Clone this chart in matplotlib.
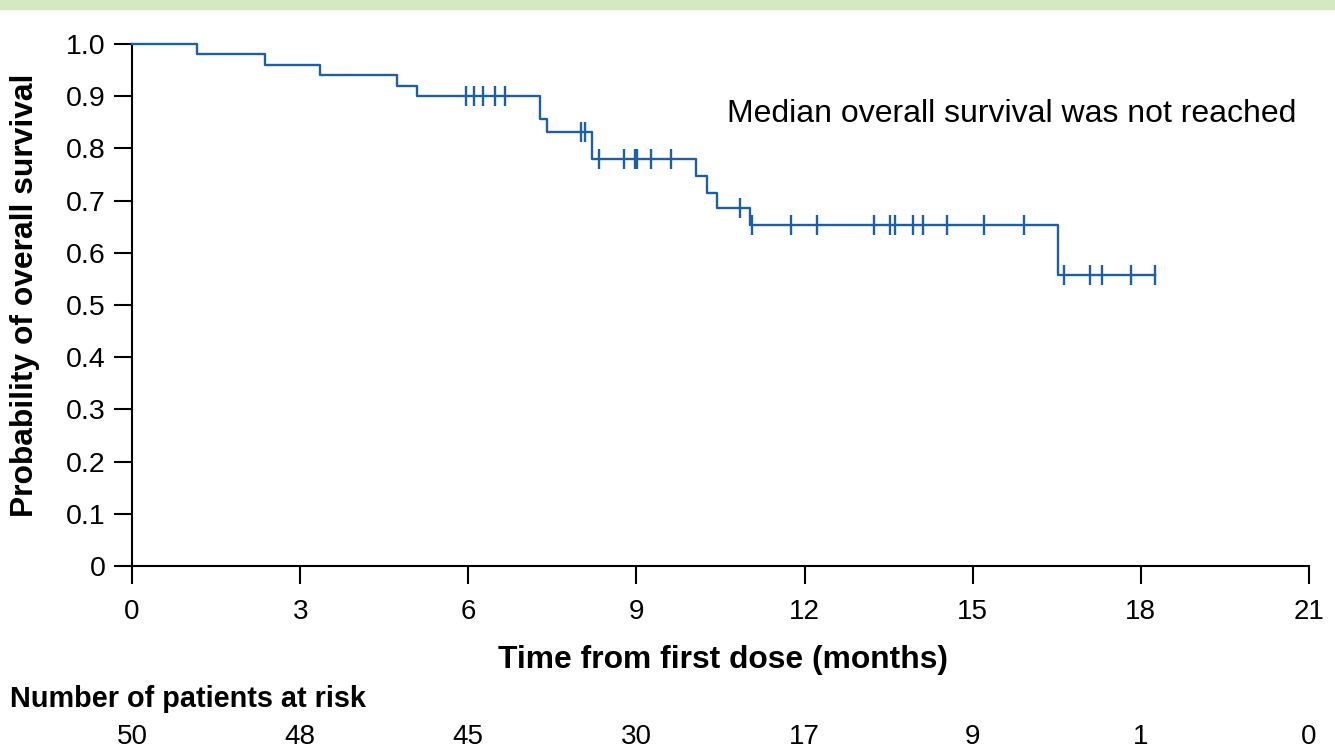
import numpy as np
import matplotlib
matplotlib.use('Agg')
import matplotlib.pyplot as plt
from matplotlib import transforms

plt.rcParams['font.family'] = ['Liberation Sans', 'DejaVu Sans']

# step function (months, survival probability)
step_times = [0, 1.16, 2.37, 3.35, 4.72, 5.09, 7.28, 7.40, 8.20, 10.06, 10.26, 10.44, 11.03, 16.52]
step_surv = [1.0, 0.98, 0.96, 0.94, 0.92, 0.90, 0.857, 0.831, 0.779, 0.747, 0.715, 0.685, 0.653, 0.557]
end_time = 18.25

censor_times = [5.96, 6.10, 6.26, 6.47, 6.66, 8.01, 8.09, 8.33, 8.77, 8.98, 9.01, 9.26, 9.62,
                10.84, 11.06, 11.76, 12.22, 13.23, 13.53, 13.61, 13.93, 14.11, 14.55, 15.21,
                15.92, 16.62, 17.09, 17.31, 17.82, 18.25]

risk_times = [0, 3, 6, 9, 12, 15, 18, 21]
at_risk = [50, 48, 45, 30, 17, 9, 1, 0]

blue = '#1c5fa8'

fig = plt.figure(figsize=(13.35, 7.53), dpi=100)
# green band at the top
fig.patches.append(plt.Rectangle((0, 1 - 9 / 753), 1, 9 / 753, transform=fig.transFigure,
                                 color='#d5e8c4', zorder=0))

ax = fig.add_axes([132 / 1335, 1 - 566 / 753, (1309 - 132) / 1335, (566 - 44) / 753])

xs = step_times + [end_time]
ys = step_surv + [step_surv[-1]]
ax.step(xs, ys, where='post', color=blue, lw=1.7, clip_on=False, zorder=3)

idx = np.searchsorted(step_times, censor_times, side='right') - 1
censor_surv = np.array(step_surv)[idx]
ax.plot(censor_times, censor_surv, ls='none', marker='|', ms=14, mew=1.7, color=blue,
        clip_on=False, zorder=3)

ax.set_xlim(0, 21)
ax.set_ylim(0, 1)
ax.set_xticks(risk_times)
ax.set_yticks(np.arange(0, 1.01, 0.1))
ax.set_yticklabels(['0'] + [f'{v:.1f}' for v in np.arange(0.1, 1.01, 0.1)])
for s in ['top', 'right']:
    ax.spines[s].set_visible(False)
for s in ['left', 'bottom']:
    ax.spines[s].set_linewidth(1.5)
ax.tick_params(axis='both', direction='out', length=13, width=1.5, pad=6)
ax.tick_params(axis='y', labelsize=20.5)
ax.tick_params(axis='x', labelsize=20, pad=11)

ax.set_xlabel('Time from first dose (months)', fontsize=22.9, fontweight='bold')
ax.xaxis.set_label_coords(0.502, -0.152)
fig.text(25 / 1335, 1 - 295 / 753, 'Probability of overall survival', fontsize=22.9,
         fontweight='bold', rotation=90, ha='center', va='center')

fig.text(727 / 1335, 1 - 114 / 753, 'Median overall survival was not reached',
         fontsize=23, ha='left', va='center')

fig.text(10 / 1335, 1 - 699 / 753, 'Number of patients at risk', fontsize=20.8,
         fontweight='bold', ha='left', va='center')
row = transforms.blended_transform_factory(ax.transData, fig.transFigure)
for t, n in zip(risk_times, at_risk):
    ax.text(t, 1 - 737 / 753, str(n), transform=row, fontsize=20,
            ha='center', va='center', clip_on=False)

fig.savefig('out.png', dpi=100)
